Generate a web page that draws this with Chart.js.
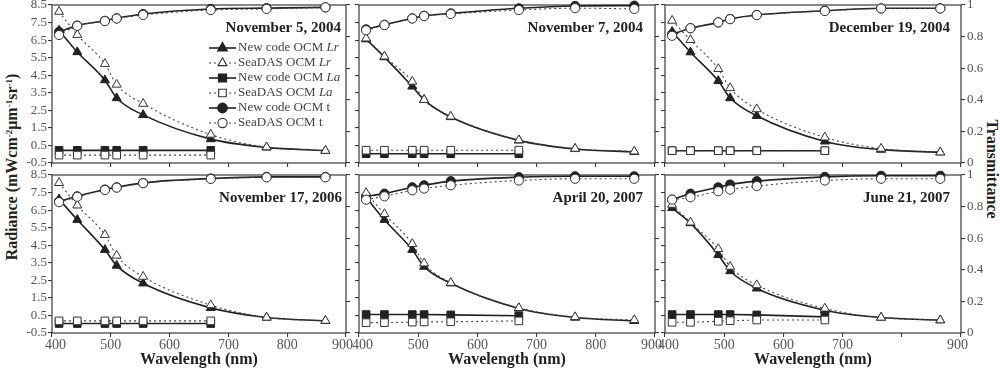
<!DOCTYPE html>
<html>
<head>
<meta charset="utf-8">
<script src="https://cdn.jsdelivr.net/npm/chart.js@4.4.1/dist/chart.umd.min.js"></script>
<style>
  body { margin: 0; background: #fff; width: 1000px; height: 370px; overflow: hidden; position: relative; font-family: "Liberation Serif", serif; }
  canvas { position: absolute; }
  .vtitle { position: absolute; font-family: "Liberation Serif", serif; font-weight: bold; font-size: 16px; color: #222; white-space: nowrap; line-height: 1; }
  .vtitle sup { font-size: 9px; vertical-align: 5px; line-height: 0; }
</style>
</head>
<body>
<div id="radTitle" class="vtitle">Radiance (mWcm<sup>-2</sup>μm<sup>-1</sup>sr<sup>-1</sup>)</div>
<div id="trTitle" class="vtitle">Transmittance</div>
<script>
// OCM bands (nm)
const wavelengths = [412, 443, 490, 510, 555, 670, 765, 865];
const dates = ["November 5, 2004", "November 7, 2004", "December 19, 2004",
               "November 17, 2006", "April 20, 2007", "June 21, 2007"];

const radianceTicks = [-0.5, 0.5, 1.5, 2.5, 3.5, 4.5, 5.5, 6.5, 7.5, 8.5];
const transTicks = [0, 0.2, 0.4, 0.6, 0.8, 1];
const wavelengthTicks = [400, 500, 600, 700, 800, 900];

// one row per date, same order as dates
const newLr = [
  [7.05, 5.82, 4.22, 3.20, 2.24, 0.86, 0.39, 0.20],
  [6.55, 5.53, 3.86, 3.10, 2.12, 0.79, 0.30, 0.13],
  [6.98, 5.81, 4.18, 3.20, 2.19, 0.73, 0.26, 0.11],
  [7.12, 5.95, 4.24, 3.34, 2.33, 0.93, 0.38, 0.19],
  [7.23, 5.95, 4.24, 3.28, 2.33, 0.90, 0.38, 0.19],
  [6.62, 5.76, 3.95, 3.03, 2.04, 0.80, 0.38, 0.23]
];
const seaLr = [
  [8.12, 6.80, 5.15, 3.97, 2.88, 1.12, 0.40, 0.20],
  [6.60, 5.57, 4.14, 3.10, 2.15, 0.80, 0.32, 0.16],
  [7.61, 6.51, 4.86, 3.77, 2.57, 0.96, 0.32, 0.11],
  [8.05, 6.77, 5.09, 3.91, 2.71, 1.09, 0.38, 0.20],
  [7.48, 6.28, 4.58, 3.47, 2.36, 0.93, 0.41, 0.24],
  [6.81, 5.80, 4.29, 3.28, 2.23, 0.90, 0.38, 0.23]
];
// La only for the first six bands
const newLa = [
  [0.22, 0.22, 0.22, 0.22, 0.22, 0.22],
  [0.03, 0.03, 0.03, 0.03, 0.03, 0.03],
  [0.20, 0.20, 0.20, 0.20, 0.20, 0.20],
  [0.04, 0.04, 0.04, 0.04, 0.04, 0.04],
  [0.55, 0.55, 0.55, 0.55, 0.53, 0.48],
  [0.55, 0.55, 0.55, 0.55, 0.53, 0.42]
];
const seaLa = [
  [-0.05, -0.05, -0.05, -0.05, -0.05, -0.05],
  [0.23, 0.23, 0.23, 0.23, 0.23, 0.23],
  [0.20, 0.20, 0.20, 0.20, 0.20, 0.20],
  [0.19, 0.19, 0.19, 0.19, 0.19, 0.19],
  [0.09, 0.09, 0.12, 0.13, 0.14, 0.19],
  [0.11, 0.11, 0.17, 0.20, 0.24, 0.24]
];
const newT = [
  [0.830, 0.870, 0.900, 0.916, 0.943, 0.975, 0.980, 0.985],
  [0.846, 0.875, 0.916, 0.932, 0.947, 0.979, 0.994, 0.996],
  [0.815, 0.853, 0.890, 0.912, 0.937, 0.964, 0.979, 0.979],
  [0.833, 0.865, 0.908, 0.922, 0.950, 0.978, 0.988, 0.988],
  [0.865, 0.882, 0.922, 0.935, 0.961, 0.986, 0.992, 0.992],
  [0.844, 0.882, 0.922, 0.940, 0.961, 0.988, 0.995, 0.995]
];
const seaT = [
  [0.810, 0.868, 0.898, 0.914, 0.937, 0.968, 0.975, 0.985],
  [0.840, 0.873, 0.914, 0.930, 0.943, 0.968, 0.980, 0.975],
  [0.805, 0.853, 0.890, 0.910, 0.936, 0.962, 0.978, 0.978],
  [0.828, 0.862, 0.905, 0.920, 0.948, 0.975, 0.985, 0.985],
  [0.844, 0.865, 0.903, 0.914, 0.935, 0.965, 0.976, 0.976],
  [0.844, 0.859, 0.897, 0.908, 0.930, 0.965, 0.976, 0.976]
];

const FONT = '"Liberation Serif", "Times New Roman", serif';
const DARK = "#222";
const AXIS = "#3a3a3a";
const TICK = "#555";

// panel geometry
const colLeft = [52, 359, 665];
const colWidth = [294, 296, 296];
const rowTop = [5, 175];
const rowHeight = [158, 158];
const titleInset = [5, 12, 11, 4, 12, 11];
const M = { l: 45, r: 45, t: 10, b: 37 };

const legendLabels = ["New code OCM Lr", "SeaDAS OCM Lr", "New code OCM La", "SeaDAS OCM La",
                      "New code OCM t", "SeaDAS OCM t"];

function pts(values) {
  return values.map((v, i) => ({ x: wavelengths[i], y: v }));
}

function series(label, values, axis, filled, style, order) {
  return {
    label: label,
    data: pts(values),
    yAxisID: axis,
    order: order,
    clip: false,
    borderColor: filled ? DARK : "#444",
    borderWidth: filled ? 1.6 : 1.1,
    borderDash: filled ? [] : [2, 3],
    cubicInterpolationMode: style === "rect" ? "default" : "monotone",
    tension: style === "rect" ? 0 : 0.4,
    pointStyle: style,
    pointRadius: style === "triangle" ? 5.2 : (style === "rect" ? 5.4 : 4.6),
    pointBackgroundColor: filled ? DARK : "#fff",
    pointBorderColor: filled ? DARK : "#333",
    pointBorderWidth: 1,
    fill: false
  };
}

const framePlugin = {
  id: "frame",
  beforeDatasetsDraw(chart) {
    const a = chart.chartArea, ctx = chart.ctx;
    ctx.save();
    ctx.strokeStyle = AXIS;
    ctx.lineWidth = 1.2;
    ctx.strokeRect(a.left, a.top, a.right - a.left, a.bottom - a.top);
    ctx.restore();
  },
  afterDraw(chart, args, opts) {
    const a = chart.chartArea, ctx = chart.ctx;
    ctx.save();
    ctx.font = "bold 15px " + FONT;
    ctx.fillStyle = DARK;
    ctx.textAlign = "right";
    ctx.textBaseline = "middle";
    ctx.fillText(opts.title, a.right - opts.inset, a.top + 23);
    ctx.restore();
  }
};

const legendPlugin = {
  id: "panelLegend",
  afterDatasetsDraw(chart, args, opts) {
    if (!opts.show) return;
    const a = chart.chartArea, ctx = chart.ctx;
    ctx.save();
    legendLabels.forEach((label, i) => {
      const ds = chart.data.datasets.find(d => d.label === label);
      const y = a.top + 43 + i * 15;
      const x0 = a.left + 157, x1 = a.left + 184;
      ctx.strokeStyle = ds.borderColor;
      ctx.lineWidth = ds.borderWidth;
      ctx.setLineDash(ds.borderDash);
      ctx.beginPath(); ctx.moveTo(x0, y); ctx.lineTo(x1, y); ctx.stroke();
      ctx.setLineDash([]);
      ctx.fillStyle = ds.pointBackgroundColor;
      ctx.strokeStyle = ds.pointBorderColor;
      Chart.helpers.drawPoint(ctx, { pointStyle: ds.pointStyle, radius: ds.pointRadius, borderWidth: 1, rotation: 0 }, (x0 + x1) / 2, y);
      // last word (Lr, La) is set in italics, "t" is not
      const words = label.split(" ");
      const last = words.pop();
      const head = words.join(" ") + " ";
      const italic = last !== "t";
      ctx.fillStyle = "#444";
      ctx.textBaseline = "middle";
      ctx.textAlign = "left";
      ctx.font = "13px " + FONT;
      ctx.fillText(head, x1 + 2, y);
      const w = ctx.measureText(head).width;
      ctx.font = (italic ? "italic " : "") + "13px " + FONT;
      ctx.fillText(last, x1 + 2 + w, y);
    });
    ctx.restore();
  }
};

function wavelengthLabel(v, panel) {
  if (panel === 5 && v === 800) return "";
  if (v === 400) return "\u2002" + v;   // edge labels nudged inward
  if (v === 900) return v + "\u2002";
  return String(v);
}

dates.forEach((date, i) => {
  const row = Math.floor(i / 3), col = i % 3;
  const L = colLeft[col], T = rowTop[row], W = colWidth[col], H = rowHeight[row];
  const canvas = document.createElement("canvas");
  canvas.width = W + M.l + M.r;
  canvas.height = H + M.t + M.b;
  canvas.style.left = (L - M.l) + "px";
  canvas.style.top = (T - M.t) + "px";
  document.body.appendChild(canvas);

  const tickGrid = { drawOnChartArea: false, tickLength: 4, color: AXIS, lineWidth: 1.1 };
  new Chart(canvas, {
    type: "line",
    data: {
      datasets: [
        series("SeaDAS OCM t", seaT[i], "y1", false, "circle", 0),
        series("SeaDAS OCM La", seaLa[i], "y", false, "rect", 1),
        series("SeaDAS OCM Lr", seaLr[i], "y", false, "triangle", 2),
        series("New code OCM t", newT[i], "y1", true, "circle", 3),
        series("New code OCM La", newLa[i], "y", true, "rect", 4),
        series("New code OCM Lr", newLr[i], "y", true, "triangle", 5)
      ]
    },
    options: {
      responsive: false,
      animation: false,
      devicePixelRatio: 1,
      layout: { padding: { left: 0, right: 0, top: M.t, bottom: 0 } },
      plugins: {
        legend: { display: false },
        tooltip: { enabled: false },
        frame: { title: date, inset: titleInset[i] },
        panelLegend: { show: i === 0 }
      },
      scales: {
        x: {
          type: "linear", min: 400, max: 900, position: "bottom",
          afterBuildTicks: s => { s.ticks = wavelengthTicks.map(v => ({ value: v })); },
          afterFit: s => { s.height = M.b; },
          ticks: {
            display: row === 1, color: TICK, padding: 0, maxRotation: 0, autoSkip: false,
            font: { family: FONT, size: 14 },
            callback: v => wavelengthLabel(v, i)
          },
          grid: tickGrid,
          border: { display: false },
          title: {
            display: row === 1, text: "Wavelength (nm)", color: DARK,
            font: { family: FONT, size: 16, weight: "bold" }, padding: { top: 0, bottom: 1 }
          }
        },
        y: {
          type: "linear", min: -0.5, max: 8.5, position: "left",
          afterBuildTicks: s => { s.ticks = radianceTicks.map(v => ({ value: v })); },
          afterFit: s => { s.width = M.l; },
          ticks: {
            display: col === 0, color: TICK, padding: 1, autoSkip: false,
            font: { family: FONT, size: 13 },
            callback: v => v.toFixed(1)
          },
          grid: tickGrid,
          border: { display: false }
        },
        y1: {
          type: "linear", min: 0, max: 1, position: "right",
          afterBuildTicks: s => { s.ticks = transTicks.map(v => ({ value: v })); },
          afterFit: s => { s.width = M.r; },
          ticks: {
            display: col === 2, color: TICK, padding: 2, autoSkip: false,
            font: { family: FONT, size: 13 },
            callback: v => String(+v.toFixed(1))
          },
          grid: tickGrid,
          border: { display: false }
        }
      }
    },
    plugins: [framePlugin, legendPlugin]
  });
});

// shared axis titles
const rad = document.getElementById("radTitle");
rad.style.left = "12px"; rad.style.top = "167px";
rad.style.transform = "translate(-50%,-50%) rotate(-90deg)";
const tr = document.getElementById("trTitle");
tr.style.left = "992px"; tr.style.top = "169px";
tr.style.transform = "translate(-50%,-50%) rotate(90deg)";
</script>
</body>
</html>
